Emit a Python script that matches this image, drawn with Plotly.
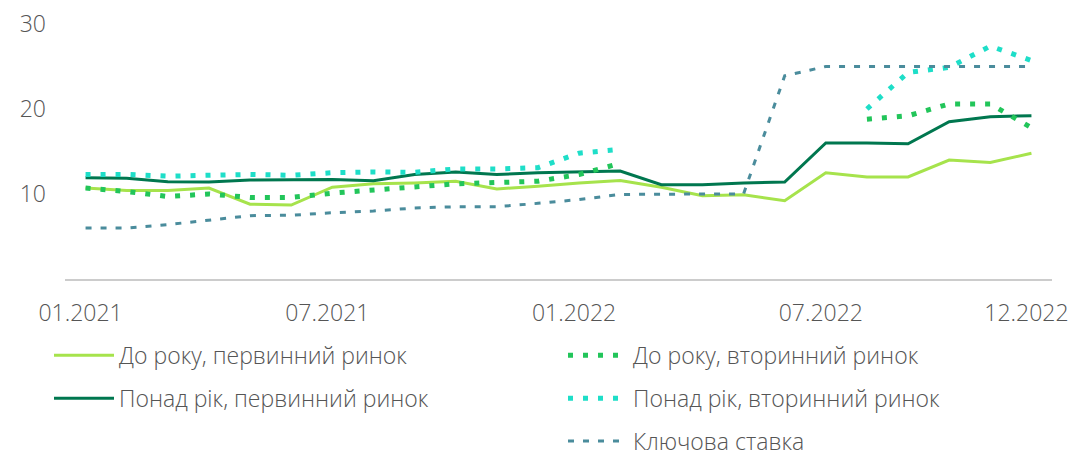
import plotly.graph_objects as go

months = [f"{m:02d}.{y}" for y in (2021, 2022) for m in range(1, 13)]
tick_labels = ["01.2021", "07.2021", "01.2022", "07.2022", "12.2022"]

short_primary = [10.7, 10.4, 10.4, 10.7, 8.8, 8.7, 10.8, 11.2, 11.3, 11.5, 10.6, 10.9,
                 11.3, 11.6, 10.8, 9.8, 9.9, 9.2, 12.5, 12.0, 12.0, 14.0, 13.7, 14.8]
long_primary = [11.9, 11.85, 11.45, 11.4, 11.65, 11.7, 11.7, 11.55, 12.3, 12.6, 12.3, 12.5,
                12.6, 12.7, 11.1, 11.1, 11.3, 11.4, 16.0, 16.0, 15.9, 18.5, 19.1, 19.2]
short_secondary = [10.7, 10.3, 9.7, 10.0, 9.6, 9.6, 10.1, 10.45, 10.85, 11.2, 11.35, 11.5,
                   12.3, 13.6, None, None, None, None, None, 18.8, 19.2, 20.6, 20.6, 17.8]
long_secondary = [12.3, 12.3, 12.1, 12.2, 12.3, 12.2, 12.5, 12.6, 12.55, 12.95, 12.95, 13.1,
                  14.8, 15.25, None, None, None, None, None, 20.0, 24.3, 24.9, 27.4, 25.7]
key_rate = [6.0, 6.0, 6.4, 6.95, 7.45, 7.5, 7.8, 8.0, 8.35, 8.5, 8.5, 8.9,
            9.35, 9.95, 10.0, 10.0, 10.0, 23.9, 25.0, 25.0, 25.0, 25.0, 25.0, 25.0]

FONT = "Open Sans"
TXT = "#555555"

fig = go.Figure()
series = [
    ("До року, первинний ринок", short_primary, "#A6E34C", "solid", 3, "legend"),
    ("Понад рік, первинний ринок", long_primary, "#00774F", "solid", 3, "legend"),
    ("До року, вторинний ринок", short_secondary, "#22C55A", "5px,10px", 5, "legend2"),
    ("Понад рік, вторинний ринок", long_secondary, "#1EDEC8", "5px,10px", 5, "legend2"),
    ("Ключова ставка", key_rate, "#4A8C9C", "6px,9px", 3, "legend2"),
]
for i, (name, vals, color, dash, width, lg) in enumerate(series):
    fig.add_trace(go.Scatter(
        x=months, y=vals, name=name, mode="lines",
        line=dict(color=color, dash=dash, width=width),
        connectgaps=False, legend=lg, legendgroup=f"g{i}",
    ))

legend_common = dict(
    orientation="v", yanchor="top", y=0.268, xref="container", yref="container",
    xanchor="left",
    font=dict(family=FONT, size=23, color=TXT, weight=300),
    tracegroupgap=10, itemwidth=60, bgcolor="rgba(0,0,0,0)",
)
fig.update_layout(
    width=1077, height=456,
    margin=dict(l=65, r=25, t=24, b=177, autoexpand=False),
    paper_bgcolor="white", plot_bgcolor="white",
    showlegend=True,
    legend=dict(x=49 / 1077, **legend_common),
    legend2=dict(x=563 / 1077, **legend_common),
    font=dict(family=FONT, color=TXT, weight=300),
)
fig.update_xaxes(
    type="category", categoryorder="array", categoryarray=months,
    range=[-0.5, 23.5],
    tickmode="array", tickvals=tick_labels, ticktext=tick_labels,
    showgrid=False, showline=True, linecolor="#cccccc", linewidth=2,
    ticks="", ticklabelstandoff=12, ticklabelshift=-5,
    tickfont=dict(family=FONT, size=23, color=TXT, weight=300),
    zeroline=False,
)
fig.update_yaxes(
    range=[0, 30], tickmode="array", tickvals=[10, 20, 30], ticktext=["10", "20", "30"],
    showgrid=False, showline=False, zeroline=False, ticks="",
    ticklabelstandoff=18,
    tickfont=dict(family=FONT, size=23, color=TXT, weight=300),
)
fig.write_html(
    "out.html",
    config={"displayModeBar": False},
    post_script="document.body.style.margin='0';document.documentElement.style.overflow='hidden';",
)
